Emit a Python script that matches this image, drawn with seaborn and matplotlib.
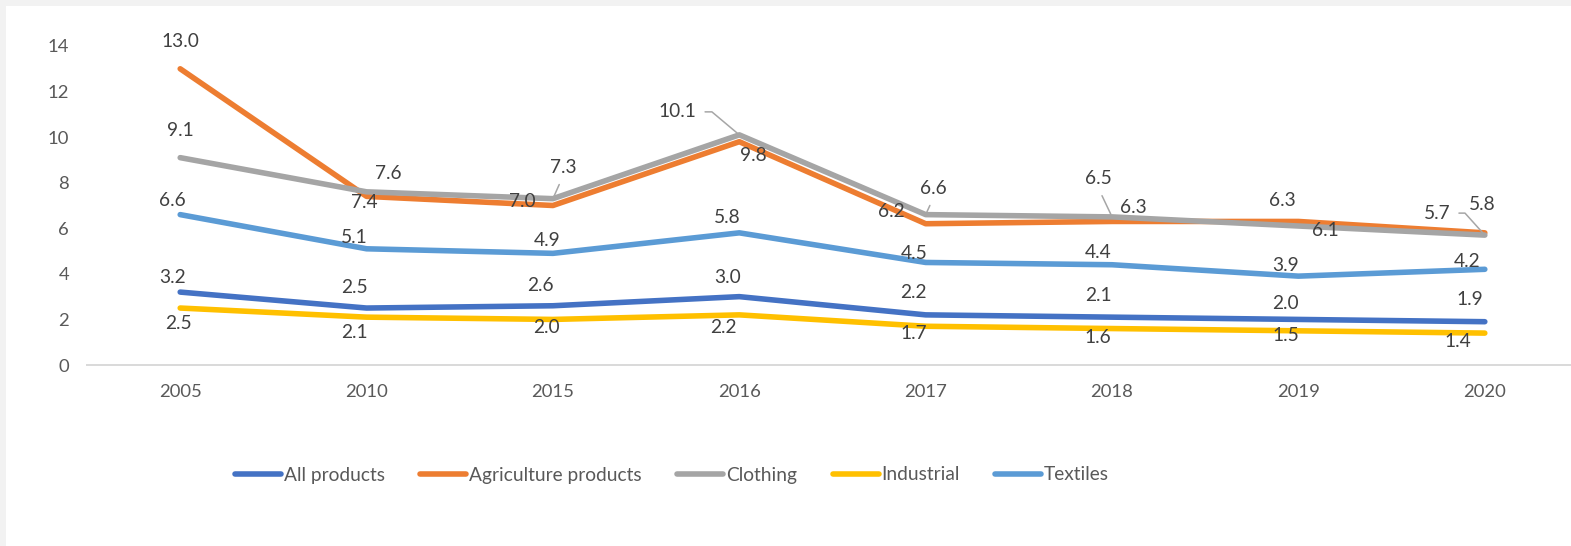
import matplotlib
matplotlib.use("Agg")
import matplotlib.pyplot as plt
from matplotlib.patches import Rectangle
import seaborn as sns
import pandas as pd

# ---- data -------------------------------------------------------------
years = ["2005", "2010", "2015", "2016", "2017", "2018", "2019", "2020"]
series_names = ["All products", "Agriculture products", "Clothing", "Industrial", "Textiles"]
all_products = [3.2, 2.5, 2.6, 3.0, 2.2, 2.1, 2.0, 1.9]
agriculture = [13.0, 7.4, 7.0, 9.8, 6.2, 6.3, 6.3, 5.8]
clothing = [9.1, 7.6, 7.3, 10.1, 6.6, 6.5, 6.1, 5.7]
industrial = [2.5, 2.1, 2.0, 2.2, 1.7, 1.6, 1.5, 1.4]
textiles = [6.6, 5.1, 4.9, 5.8, 4.5, 4.4, 3.9, 4.2]

# ---- styling ----------------------------------------------------------
colors = {
    "All products": "#4472C4",
    "Agriculture products": "#ED7D31",
    "Clothing": "#A5A5A5",
    "Industrial": "#FFC000",
    "Textiles": "#5B9BD5",
}
LINE_W = 4.0

# label placement relative to each point, in screen pixels (dx, dy downwards)
label_offsets = {
    "All products": [(-8, -15), (-12, -21), (-13, -20), (-12, -19), (-12, -22), (-14, -22), (-13, -16), (-15, -22)],
    "Agriculture products": [(0, -27), (-2, 6), (-31, -4), (14, 14), (-34, -12), (21, -14), (-16, -21), (-3, -28)],
    "Clothing": [(0, -27), (22, -18), (10, -31), (-62, -23), (8, -26), (-14, -38), (27, 4), (-48, -22)],
    "Industrial": [(-2, 15), (-12, 15), (-6, 8), (-16, 13), (-12, 7), (-14, 9), (-13, 5), (-27, 8)],
    "Textiles": [(-8, -14), (-12, -11), (-6, -13), (-12, -15), (-12, -9), (-14, -12), (-13, -11), (-18, -8)],
}
# leader lines: (series, index) -> (relpos, connection style)
leaders = {
    ("Clothing", 2): ((0.5, 0.0), "arc3"),
    ("Clothing", 3): ((1.0, 0.5), "angle,angleA=0,angleB=-40,rad=0"),
    ("Clothing", 4): ((0.5, 0.0), "arc3"),
    ("Clothing", 5): ((0.5, 0.0), "arc3"),
    ("Clothing", 7): ((1.0, 0.5), "angle,angleA=0,angleB=-48,rad=0"),
}

sns.set_theme(style="white")
plt.rcParams["font.family"] = ["Lato", "DejaVu Sans"]

W, H = 1571, 546
fig = plt.figure(figsize=(W / 100, H / 100), dpi=100, facecolor="#F2F2F2")
panel = Rectangle((6 / W, 0), 1, (H - 6) / H, transform=fig.transFigure,
                  facecolor="white", edgecolor="none", zorder=-10)
fig.patches.append(panel)

ax = fig.add_axes([87 / W, (H - 365) / H, 1491 / W, 319 / H])
ax.set_facecolor("none")
ax.set_zorder(1)

values = {
    "All products": all_products,
    "Agriculture products": agriculture,
    "Clothing": clothing,
    "Industrial": industrial,
    "Textiles": textiles,
}
df = pd.DataFrame(
    [(i, name, v) for name in series_names for i, v in enumerate(values[name])],
    columns=["pos", "series", "value"],
)

sns.lineplot(data=df, x="pos", y="value", hue="series", hue_order=series_names,
             palette=colors, linewidth=LINE_W, sort=False, legend=False, ax=ax,
             solid_capstyle="round", solid_joinstyle="round")

# data labels
for name in series_names:
    for i, v in enumerate(values[name]):
        dx, dy = label_offsets[name][i]
        kw = {}
        if (name, i) in leaders:
            relpos, cs = leaders[(name, i)]
            kw["arrowprops"] = dict(arrowstyle="-", color="#A6A6A6", lw=1.1,
                                    relpos=relpos, connectionstyle=cs,
                                    shrinkA=4, shrinkB=2)
        ax.annotate(f"{v:.1f}", xy=(i, v), xytext=(dx, -dy), textcoords="offset pixels",
                    ha="center", va="center", fontsize=13.8, color="#404040", **kw)

# axes
ax.set_xlim(-0.5, 7.5)
ax.set_ylim(0, 14)
ax.set_yticks(range(0, 15, 2))
ax.set_xticks(range(len(years)))
ax.set_xticklabels(years)
ax.set_xlabel("")
ax.set_ylabel("")
ax.tick_params(axis="both", length=0, labelsize=13.3, labelcolor="#595959")
ax.tick_params(axis="y", pad=13)
ax.tick_params(axis="x", pad=14)
for side in ["top", "right", "left"]:
    ax.spines[side].set_visible(False)
ax.spines["bottom"].set_color("#D9D9D9")
ax.spines["bottom"].set_linewidth(1.4)
ax.grid(False)

# legend
handles = ax.get_lines()[:len(series_names)]
leg = fig.legend(handles, series_names, loc="center", bbox_to_anchor=(672 / W, (H - 475) / H),
                 ncol=5, frameon=False, fontsize=13.8, handlelength=2.4, handletextpad=0.15,
                 columnspacing=1.85, labelcolor="#595959")
for h in leg.get_lines():
    h.set_linewidth(LINE_W)
    h.set_solid_capstyle("round")

fig.savefig("out.png", dpi=100, facecolor=fig.get_facecolor())
